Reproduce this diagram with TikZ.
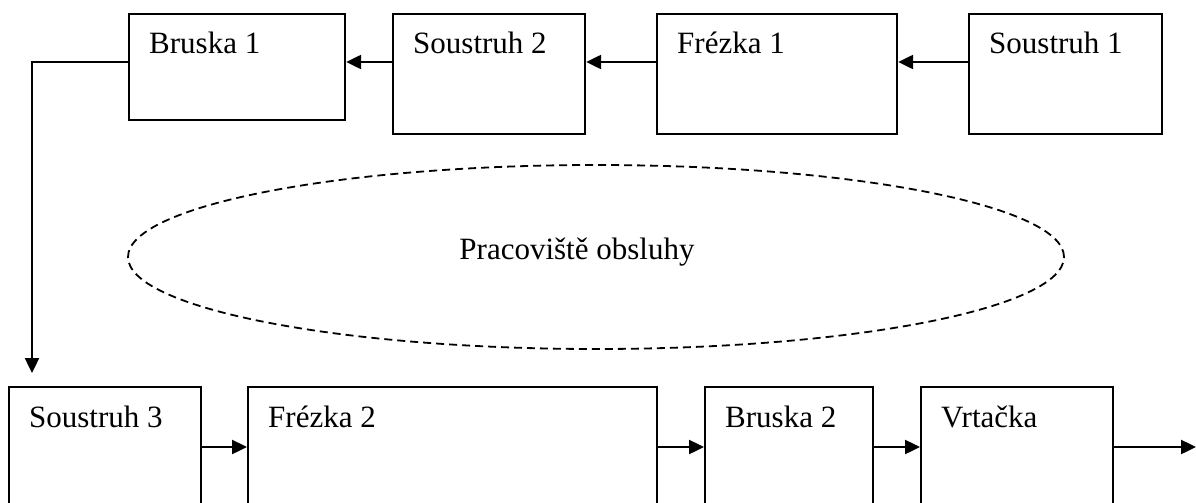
\documentclass[tikz,border=0pt]{standalone}
\usepackage{fontspec}
\setmainfont{Liberation Serif}
\usetikzlibrary{arrows.meta,shapes.geometric,calc}
\newcommand{\machinebox}[6]{%
  \node[machine, minimum width={#4-#2}, minimum height={#5-#3}, anchor=north west] (#1) at (#2,#3) {};
  \node[lbl] (#1t) at ($(#1.north west)+(21,41)$) {#6};}
\begin{document}
\begin{tikzpicture}[x=1pt,y=-1pt,
  machine/.style={draw, line width=2.2pt, rectangle, inner sep=0pt},
  lbl/.style={anchor=base west, inner sep=0pt, font=\fontsize{31}{37}\selectfont},
  arr/.style={line width=2.4pt, -{Triangle[length=15pt,width=14pt]}},
  area/.style={draw, dashed, dash pattern=on 8pt off 5pt, line width=1.8pt, ellipse, inner sep=0pt}
]
\useasboundingbox (0,0) rectangle (1196,503);
\clip (0,0) rectangle (1196,503);
% machine boxes (corners in pixels)
\machinebox{b1}{128}{13}{344}{119}{Bruska 1}
\machinebox{s2}{392}{13}{584}{133}{Soustruh 2}
\machinebox{f1}{656}{13}{896}{133}{Frézka 1}
\machinebox{s1}{968}{13}{1161}{133}{Soustruh 1}
\machinebox{s3}{8}{386}{200}{530}{Soustruh 3}
\machinebox{f2}{247}{386}{656}{530}{Frézka 2}
\machinebox{b2}{704}{386}{872}{530}{Bruska 2}
\machinebox{vr}{920}{386}{1112}{530}{Vrtačka}
% work area
\node[area, minimum width=936pt, minimum height=184pt] (ws) at (596,257) {};
\node[anchor=base, inner sep=0pt, font=\fontsize{31}{37}\selectfont] (wst) at (577,259) {Pracoviště obsluhy};
% helper coordinates
\coordinate (rt) at (0,62);
\coordinate (rb) at (0,447);
\coordinate (turn) at (32,0);
\coordinate (out) at (1196,447);
% top row connectors
\draw[arr] (s1.west |- rt) -- (f1.east |- rt);
\draw[arr] (f1.west |- rt) -- (s2.east |- rt);
\draw[arr] (s2.west |- rt) -- (b1.east |- rt);
% down connector
\draw[arr, shorten >=13pt] (b1.west |- rt) -| (s3.north -| turn);
% bottom row connectors
\draw[arr] (s3.east |- rb) -- (f2.west |- rb);
\draw[arr] (f2.east |- rb) -- (b2.west |- rb);
\draw[arr] (b2.east |- rb) -- (vr.west |- rb);
\draw[arr] (vr.east |- rb) -- (out);
\end{tikzpicture}
\end{document}
